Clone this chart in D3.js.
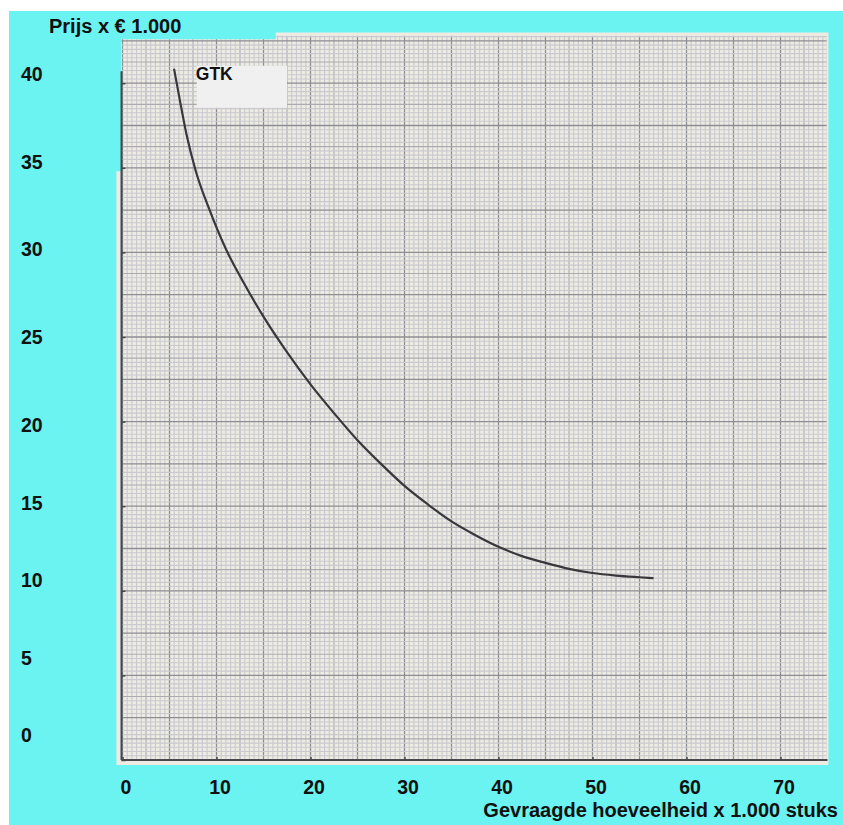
<!DOCTYPE html>
<html><head><meta charset="utf-8">
<script src="https://cdn.jsdelivr.net/npm/d3@7"></script>
<style>html,body{margin:0;padding:0;background:#fff;} svg{display:block}</style>
</head><body>
<svg id="c" width="843" height="825"></svg>
<script>
// ---- data ----
const quantity = [5.5, 6.1, 6.8, 7.8, 9.2, 11.0, 13.0, 15.0, 17.5, 20.0, 22.5, 25.0, 27.5, 30.0, 32.5, 35.0, 37.5, 40.0, 42.5, 45.0, 47.5, 50.0, 52.5, 55.0, 56.4];
const price    = [40.8, 39.0, 37.0, 34.8, 32.6, 30.2, 28.1, 26.2, 24.1, 22.2, 20.5, 18.9, 17.5, 16.2, 15.1, 14.1, 13.3, 12.6, 12.05, 11.65, 11.3, 11.05, 10.9, 10.8, 10.75];
const xTickValues = [0, 10, 20, 30, 40, 50, 60, 70];
const yTickValues = [0, 5, 10, 15, 20, 25, 30, 35, 40];
const yTitle = "Prijs x € 1.000";
const xTitle = "Gevraagde hoeveelheid x 1.000 stuks";
const curveLabel = "GTK";

// ---- layout ----
const svg = d3.select("#c");
const FONT = "'Liberation Sans', Arial, Helvetica, sans-serif";
const x = d3.scaleLinear().domain([0, 75]).range([122.5, 827.5]);
const y = d3.scaleLinear().domain([0, 40]).range([760, 83.2]);
// the typed labels in the original sit slightly off the grid ticks
const yLab = d3.scaleLinear().domain([0, 20, 40]).range([742, 432, 80.7]);

// backgrounds
svg.append("rect").attr("width", 843).attr("height", 825).attr("fill", "#ffffff");
svg.append("rect").attr("x", 9).attr("y", 11).attr("width", 834).attr("height", 814).attr("fill", "#6bf3f1");

// paper
const xl = x(-0.15), xr = x(75.1), yb = y(-0.3), yt = y(43.0), yt2 = y(42.6), xStep = x(16.3), xl2 = x(-0.65), yStep = y(34.8);
svg.append("path")
  .attr("d", `M${xl},${yt2}L${xStep},${yt2}L${xStep},${yt}L${xr},${yt}L${xr},${yb}L${xl2},${yb}L${xl2},${yStep}L${xl},${yStep}Z`)
  .attr("fill", "#eeebe3");

// grid
const defs = svg.append("defs");
defs.append("clipPath").attr("id", "gclip").append("path")
  .attr("d", `M${x(0)-1},${y(42.6)}L${xStep},${y(42.6)}L${xStep},${y(42.8)}L${x(74.9)},${y(42.8)}L${x(74.9)},${y(0)}L${x(0)-1},${y(0)}Z`);
const grid = svg.append("g").attr("clip-path", "url(#gclip)");
const styleFor = i => (i % 10 === 0) ? ["#8c8e94", 1.3] : (i % 5 === 0) ? ["#aaacb2", 1.1] : ["#c8cad0", 1.1];
d3.range(0, 151).forEach(i => {
  const v = i * 0.5, s = styleFor(i);
  grid.append("line").attr("x1", x(v)).attr("x2", x(v)).attr("y1", y(44)).attr("y2", y(0))
    .attr("stroke", s[0]).attr("stroke-width", s[1]);
});
d3.range(0, 177).forEach(i => {
  const v = i * 0.25, s = styleFor(i);
  grid.append("line").attr("x1", x(-1)).attr("x2", x(76)).attr("y1", y(v)).attr("y2", y(v))
    .attr("stroke", s[0]).attr("stroke-width", s[1]);
});

// axes lines
svg.append("line").attr("x1", x(0) - 1).attr("x2", x(0) - 1).attr("y1", y(0)).attr("y2", y(40.7))
  .attr("stroke", "#48484c").attr("stroke-width", 2);
svg.append("line").attr("x1", x(0) - 1).attr("x2", x(75)).attr("y1", y(0)).attr("y2", y(0))
  .attr("stroke", "#48484c").attr("stroke-width", 2);

// tick marks via d3 axes (inward)
const yAx = svg.append("g").attr("transform", `translate(${x(0) - 1},0)`)
  .call(d3.axisRight(y).tickValues(yTickValues).tickSize(4).tickSizeOuter(0).tickFormat(""));
const xAx = svg.append("g").attr("transform", `translate(0,${y(0)})`)
  .call(d3.axisTop(x).tickValues(xTickValues).tickSize(3).tickSizeOuter(0).tickFormat(""));
[yAx, xAx].forEach(g => { g.select(".domain").remove(); g.selectAll("line").attr("stroke", "#48484c").attr("stroke-width", 1.5); });

// curve
const pts = quantity.map((q, i) => [q, price[i]]);
svg.append("path").datum(pts)
  .attr("d", d3.line().x(d => x(d[0])).y(d => y(d[1])).curve(d3.curveMonotoneX))
  .attr("fill", "none").attr("stroke", "#38383c").attr("stroke-width", 2.2).attr("stroke-linecap", "round");

// label box
svg.append("rect").attr("x", x(7.9)).attr("y", y(41.03)).attr("width", x(17.5) - x(7.9)).attr("height", y(38.55) - y(41.03))
  .attr("fill", "#f0f0f0");
svg.append("text").attr("x", x(7.8)).attr("y", y(40.2)).text(curveLabel)
  .attr("font-family", FONT).attr("font-weight", "bold").attr("font-size", 17.5).attr("fill", "#111");

// tick labels
svg.selectAll(".yl").data(yTickValues).enter().append("text")
  .attr("x", 21).attr("y", d => yLab(d)).text(d => d)
  .attr("font-family", FONT).attr("font-weight", "bold").attr("font-size", 19.5).attr("fill", "#111");
svg.selectAll(".xl").data(xTickValues).enter().append("text")
  .attr("x", d => x(d) + 3.5).attr("y", 794).attr("text-anchor", "middle").text(d => d)
  .attr("font-family", FONT).attr("font-weight", "bold").attr("font-size", 19.5).attr("fill", "#111");

// titles
svg.append("text").attr("x", 49).attr("y", 33).text(yTitle)
  .attr("font-family", FONT).attr("font-weight", "bold").attr("font-size", 20).attr("fill", "#111");
svg.append("text").attr("x", 838).attr("y", 817).attr("text-anchor", "end").text(xTitle)
  .attr("font-family", FONT).attr("font-weight", "bold").attr("font-size", 20).attr("fill", "#111");
</script>
</body></html>
